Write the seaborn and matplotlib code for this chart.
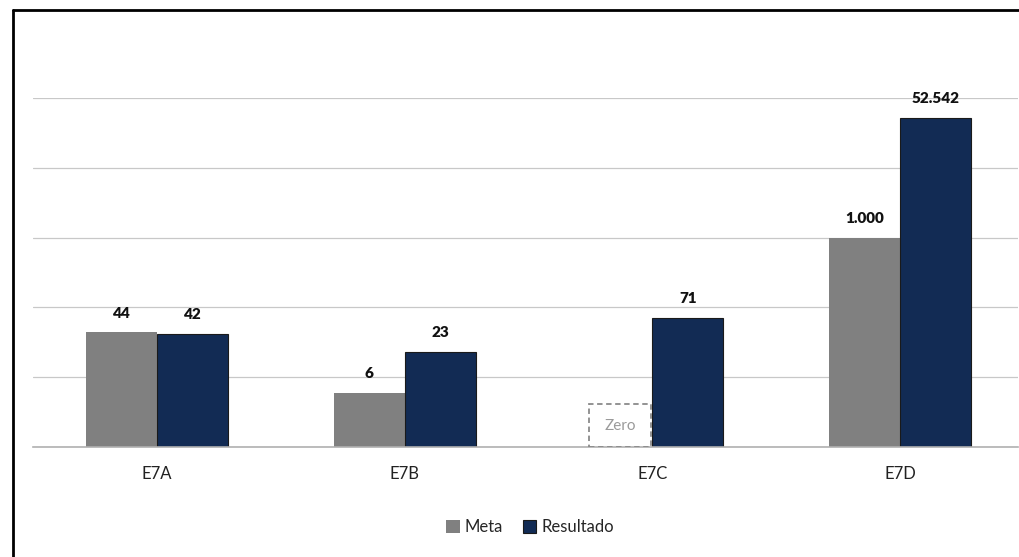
import pandas as pd
import matplotlib.pyplot as plt
import matplotlib.patches as mpatches
import seaborn as sns

# --- Data ---
categories = ["E7A", "E7B", "E7C", "E7D"]
meta = [44, 6, 0, 1000]
resultado = [42, 23, 71, 52542]
series_names = ["Meta", "Resultado"]

# --- Style ---
COLORS = {"Meta": "#808080", "Resultado": "#122b54"}
BAR_GROUP_WIDTH = 0.573
ZERO_BOX_HEIGHT = 4.1  # height of the "Zero" placeholder box on the log axis

sns.set_style("white")
plt.rcParams['font.family'] = ['Lato', 'DejaVu Sans']


def fmt_br(v):
    return f"{v:,.0f}".replace(",", ".")


df = pd.DataFrame({
    "cat": categories * 2,
    "serie": [series_names[0]] * len(categories) + [series_names[1]] * len(categories),
    "valor": meta + resultado,
})
df["plot_valor"] = df["valor"].where(df["valor"] > 0)

fig = plt.figure(figsize=(10.2, 5.57), dpi=100)
ax = fig.add_axes([33 / 1020, 110 / 557, (1018 - 33) / 1020, (447 - 98) / 557])
ax.set_yscale("log")

sns.barplot(data=df, x="cat", y="plot_valor", hue="serie", hue_order=series_names,
            palette=COLORS, width=BAR_GROUP_WIDTH, gap=0, saturation=1, ax=ax, legend=False)

# bar edges: only the navy bars get a dark outline
for patch in ax.patches:
    if patch.get_x() + patch.get_width() / 2 > round(patch.get_x() + patch.get_width() / 2):
        patch.set_edgecolor("#1a1a1a")
        patch.set_linewidth(0.8)
    else:
        patch.set_edgecolor("none")

# value labels
half = BAR_GROUP_WIDTH / 2
for s_idx, (name, vals) in enumerate(zip(series_names, [meta, resultado])):
    for i, v in enumerate(vals):
        xc = i - half / 2 + s_idx * half
        if v > 0:
            ax.annotate(fmt_br(v), (xc, v), xytext=(0, 9), textcoords="offset points",
                        ha="center", va="bottom", fontsize=11, fontweight="heavy",
                        color="#111111")
        else:
            w = half * 0.87
            x0 = i - w - 0.005
            box = mpatches.Rectangle((x0, 1), w, ZERO_BOX_HEIGHT - 1, fill=False,
                                     edgecolor="#8a8a8a", linestyle=(0, (3, 2)),
                                     linewidth=1.3, zorder=3)
            ax.add_patch(box)
            ax.text(x0 + w / 2, ZERO_BOX_HEIGHT ** 0.5, "Zero", ha="center", va="center",
                    fontsize=11, color="#9a9a9a")

ax.set_ylim(1, 1e5)
ax.set_xlim(-0.5, 3.475)
ax.yaxis.grid(True, which="major", color="#c8c8c8", linewidth=0.9)
ax.set_axisbelow(True)
ax.set_yticklabels([])
ax.tick_params(axis="y", length=0, which="both")
ax.minorticks_off()
ax.tick_params(axis="x", length=0, labelsize=12, pad=14, colors="#222222")
ax.set_xlabel("")
ax.set_ylabel("")
for s in ["top", "right", "left"]:
    ax.spines[s].set_visible(False)
ax.spines["bottom"].set_color("#b0b0b0")
ax.spines["bottom"].set_linewidth(1.2)

handles = [mpatches.Patch(facecolor=COLORS[n], edgecolor="#1a1a1a" if n == "Resultado" else "none",
                          linewidth=0.8, label=n) for n in series_names]
fig.legend(handles=handles, loc="center", bbox_to_anchor=(530 / 1020, 1 - 527 / 557),
           ncol=2, frameon=False, fontsize=12, handlelength=0.8, handleheight=0.8,
           handletextpad=0.3, columnspacing=1.2)

# outer frame (left and top edges visible in the crop)
fig.add_artist(plt.Line2D([13 / 1020, 13 / 1020], [0, 1 - 10 / 557], transform=fig.transFigure,
                          color="black", linewidth=2))
fig.add_artist(plt.Line2D([13 / 1020, 1], [1 - 10 / 557, 1 - 10 / 557], transform=fig.transFigure,
                          color="black", linewidth=2))

fig.savefig("out.png", dpi=100, facecolor="white")
